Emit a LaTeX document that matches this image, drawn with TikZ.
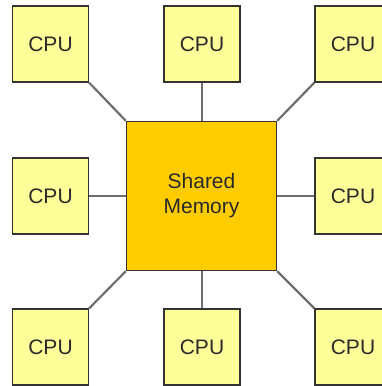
\documentclass[tikz,border=0pt]{standalone}
\usepackage{fontspec}
\setmainfont{Liberation Sans}
\definecolor{cpufill}{HTML}{FFFF99}
\definecolor{memfill}{HTML}{FFCC00}
\definecolor{edge}{HTML}{333333}
\definecolor{wire}{HTML}{6E6E6E}
\definecolor{txt}{HTML}{2A2A2A}
\begin{document}
\begin{tikzpicture}[x=1pt,y=-1pt,
  cpu/.style={draw=edge,line width=1.3pt,fill=cpufill,minimum width=76pt,minimum height=76pt,inner sep=0pt,
    font=\fontsize{21}{24}\selectfont,text=txt},
  mem/.style={draw=edge,line width=1.3pt,fill=memfill,minimum width=150pt,minimum height=149pt,inner sep=0pt,
    font=\fontsize{21}{25}\selectfont,text=txt,align=center},
  wirel/.style={draw=wire,line width=2.2pt}]
\useasboundingbox (0,0) rectangle (382,386);
\clip (0,0) rectangle (382,386);
\node[mem] (m) at (201.5,196) {Shared\\Memory};
\node[cpu] (c1) at (50.5,44) {CPU};
\node[cpu] (c2) at (202,44) {CPU};
\node[cpu] (c3) at (353,44) {CPU};
\node[cpu] (c4) at (50.5,196) {CPU};
\node[cpu] (c6) at (353,196) {CPU};
\node[cpu] (c7) at (50.5,347) {CPU};
\node[cpu] (c8) at (202,347) {CPU};
\node[cpu] (c9) at (353,347) {CPU};
\draw[wirel] (c1.south east) -- (m.north west);
\draw[wirel] (c2.south) -- (m.north -| c2.south);
\draw[wirel] (c3.south west) -- (m.north east);
\draw[wirel] (c4.east) -- (m.west |- c4.east);
\draw[wirel] (c6.west) -- (m.east |- c6.west);
\draw[wirel] (c7.north east) -- (m.south west);
\draw[wirel] (c8.north) -- (m.south -| c8.north);
\draw[wirel] (c9.north west) -- (m.south east);
\end{tikzpicture}
\end{document}
